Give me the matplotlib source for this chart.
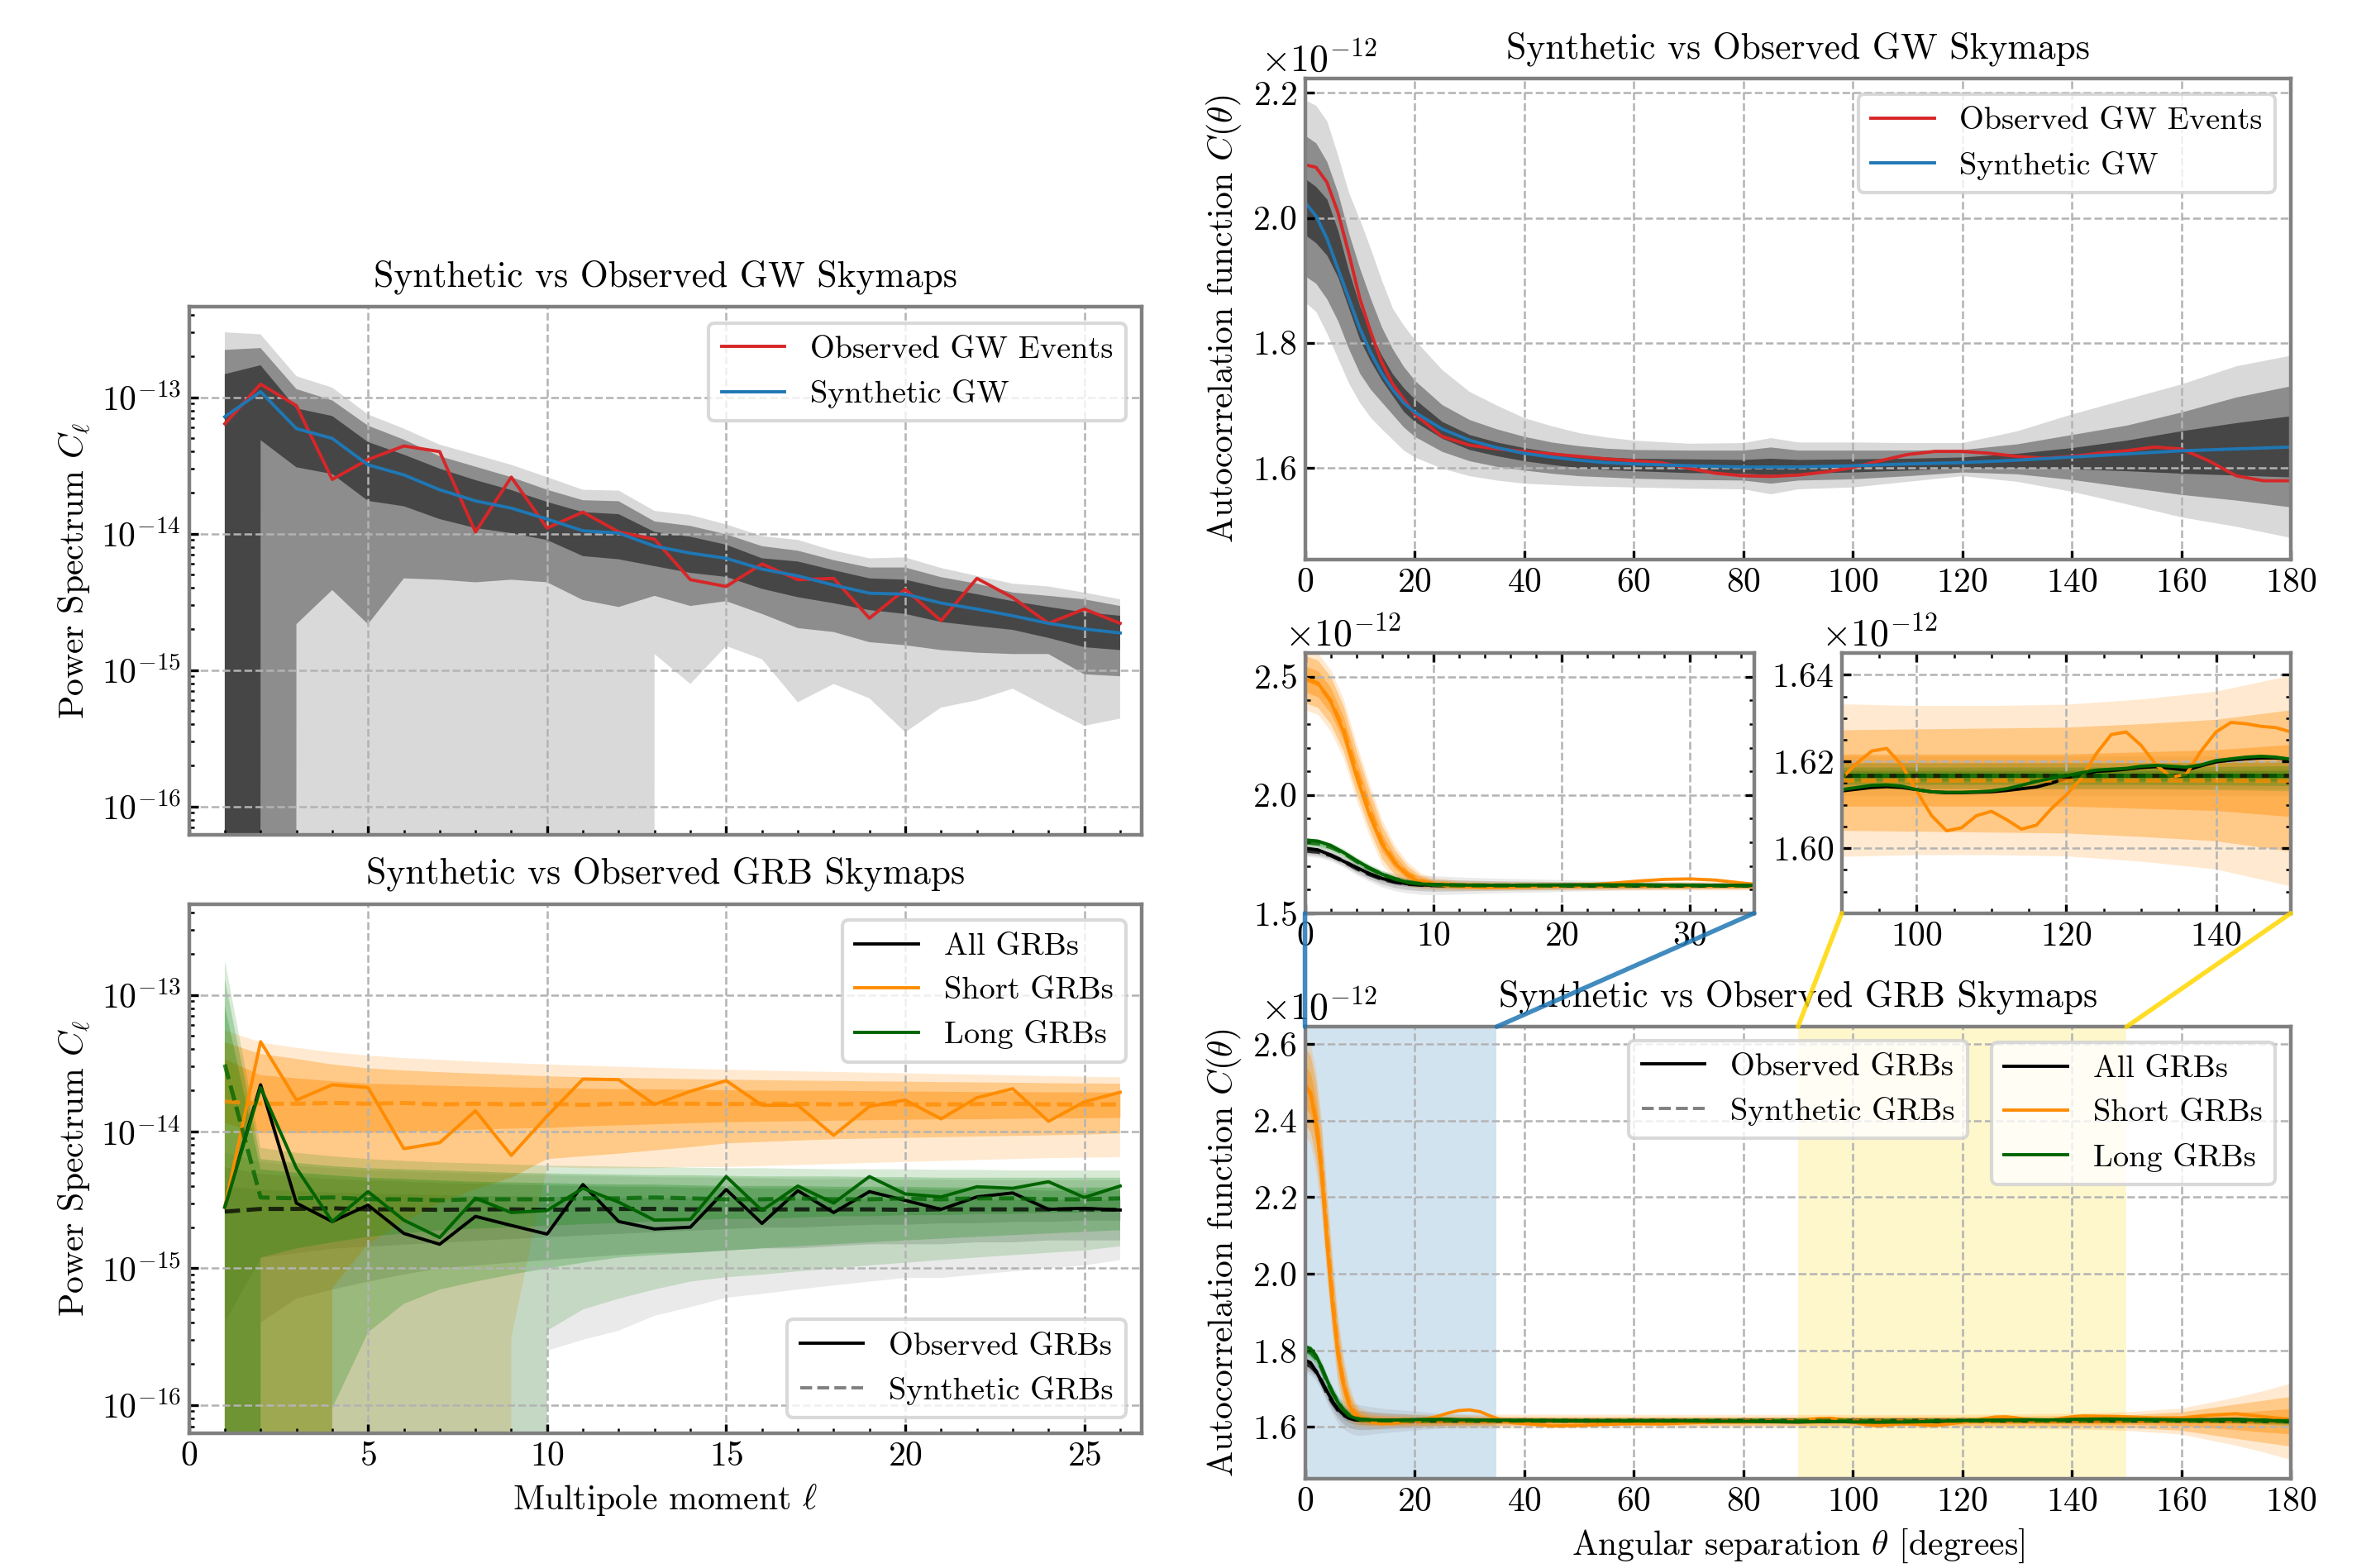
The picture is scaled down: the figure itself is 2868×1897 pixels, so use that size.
import numpy as np
import matplotlib
matplotlib.use("Agg")
import matplotlib.pyplot as plt
from matplotlib.ticker import MultipleLocator, ScalarFormatter
from matplotlib.lines import Line2D
from matplotlib.patches import ConnectionPatch

plt.rcParams.update({
    "font.family": "serif", "font.serif": ["cmr10", "DejaVu Serif"],
    "mathtext.fontset": "cm", "axes.formatter.use_mathtext": True,
    "font.size": 15, "axes.unicode_minus": True,
    "axes.titlesize": 15.7, "legend.fontsize": 13.8,
})

# ---------------- power spectra (multipole 1..26) ----------------
ell = list(range(1, 27))

gw_obs = [6.4e-14, 1.25e-13, 8.7e-14, 2.5e-14, 3.5e-14, 4.4e-14, 4.0e-14, 1.03e-14, 2.6e-14, 1.1e-14,
          1.44e-14, 1.03e-14, 9.1e-15, 4.6e-15, 4.1e-15, 6.0e-15, 4.6e-15, 4.7e-15, 2.4e-15, 3.9e-15,
          2.3e-15, 4.7e-15, 3.4e-15, 2.2e-15, 2.8e-15, 2.2e-15]
gw_syn = [7.2e-14, 1.1e-13, 5.9e-14, 5.0e-14, 3.2e-14, 2.7e-14, 2.1e-14, 1.74e-14, 1.54e-14, 1.28e-14,
          1.05e-14, 1.01e-14, 8.1e-15, 7.2e-15, 6.6e-15, 5.5e-15, 4.9e-15, 4.2e-15, 3.66e-15, 3.6e-15,
          3.1e-15, 2.8e-15, 2.5e-15, 2.2e-15, 2.0e-15, 1.87e-15]
gw_hi3 = [3.0e-13, 2.9e-13, 1.43e-13, 1.18e-13, 7.5e-14, 5.9e-14, 4.5e-14, 3.8e-14, 3.2e-14, 2.6e-14,
          2.1e-14, 2.07e-14, 1.47e-14, 1.37e-14, 1.17e-14, 9.6e-15, 9.0e-15, 7.5e-15, 6.6e-15, 6.7e-15,
          5.6e-15, 4.9e-15, 4.3e-15, 4.1e-15, 3.7e-15, 3.3e-15]
gw_hi2 = [2.23e-13, 2.3e-13, 1.15e-13, 9.5e-14, 6.2e-14, 4.9e-14, 3.7e-14, 3.1e-14, 2.6e-14, 2.1e-14,
          1.76e-14, 1.73e-14, 1.23e-14, 1.14e-14, 9.9e-15, 8.1e-15, 7.5e-15, 6.4e-15, 5.65e-15, 5.65e-15,
          4.8e-15, 4.3e-15, 3.7e-15, 3.5e-15, 3.3e-15, 2.95e-15]
gw_hi1 = [1.48e-13, 1.72e-13, 8.3e-14, 7.3e-14, 4.7e-14, 3.8e-14, 3.0e-14, 2.47e-14, 2.09e-14, 1.71e-14,
          1.44e-14, 1.39e-14, 1.03e-14, 9.5e-15, 8.3e-15, 6.6e-15, 6.25e-15, 5.4e-15, 4.7e-15, 4.6e-15,
          4.0e-15, 3.6e-15, 3.2e-15, 2.9e-15, 2.65e-15, 2.5e-15]
gw_lo1 = [0, 4.86e-14, 3.07e-14, 2.74e-14, 1.74e-14, 1.59e-14, 1.28e-14, 1.1e-14, 1.01e-14, 8.98e-15,
          6.85e-15, 6.49e-15, 5.78e-15, 5.16e-15, 4.82e-15, 3.94e-15, 3.42e-15, 3.09e-15, 2.75e-15, 2.58e-15,
          2.25e-15, 2.1e-15, 1.97e-15, 1.72e-15, 1.47e-15, 1.4e-15]
gw_lo2 = [0, 0, 2.17e-15, 3.86e-15, 2.17e-15, 4.7e-15, 4.6e-15, 4.4e-15, 4.6e-15, 4.4e-15,
          3.26e-15, 2.9e-15, 3.5e-15, 2.95e-15, 3.2e-15, 2.58e-15, 2.03e-15, 1.9e-15, 1.6e-15, 1.52e-15,
          1.4e-15, 1.34e-15, 1.31e-15, 1.31e-15, 9.3e-16, 9.0e-16]
gw_lo3 = [0, 0, 0, 0, 0, 0, 0, 0, 0, 0, 0, 0, 1.31e-15, 7.9e-16, 1.5e-15, 1.2e-15, 5.8e-16, 7.9e-16,
          6.2e-16, 3.5e-16, 5.3e-16, 6.0e-16, 7.3e-16, 5.3e-16, 3.9e-16, 4.4e-16]

all_obs = [2.8e-15, 2.2e-14, 3.0e-15, 2.2e-15, 2.9e-15, 1.8e-15, 1.5e-15, 2.4e-15, 2.06e-15, 1.78e-15,
           4.1e-15, 2.2e-15, 1.94e-15, 2.0e-15, 3.77e-15, 2.13e-15, 3.7e-15, 2.56e-15, 3.64e-15, 3.14e-15,
           2.7e-15, 3.33e-15, 3.56e-15, 2.7e-15, 2.75e-15, 2.67e-15]
short_obs = [2.8e-15, 4.55e-14, 1.7e-14, 2.2e-14, 2.1e-14, 7.5e-15, 8.3e-15, 1.42e-14, 6.7e-15, 1.3e-14,
             2.42e-14, 2.4e-14, 1.58e-14, 1.97e-14, 2.36e-14, 1.56e-14, 1.56e-14, 9.4e-15, 1.53e-14, 1.7e-14,
             1.24e-14, 1.77e-14, 2.06e-14, 1.19e-14, 1.65e-14, 1.94e-14]
long_obs = [2.8e-15, 2.1e-14, 5.4e-15, 2.2e-15, 3.64e-15, 2.25e-15, 1.68e-15, 3.26e-15, 2.56e-15, 2.65e-15,
            3.85e-15, 3.05e-15, 2.25e-15, 2.28e-15, 4.69e-15, 2.65e-15, 4.0e-15, 3.0e-15, 4.69e-15, 3.5e-15,
            3.33e-15, 3.95e-15, 3.85e-15, 4.3e-15, 3.3e-15, 4.0e-15]
all_syn = [2.6e-15, 2.72e-15, 2.72e-15, 2.75e-15, 2.7e-15, 2.7e-15, 2.68e-15, 2.7e-15, 2.7e-15, 2.68e-15,
           2.7e-15, 2.72e-15, 2.72e-15, 2.7e-15, 2.7e-15, 2.7e-15, 2.7e-15, 2.7e-15, 2.7e-15, 2.68e-15,
           2.7e-15, 2.7e-15, 2.7e-15, 2.7e-15, 2.7e-15, 2.68e-15]
short_syn = [1.66e-14, 1.6e-14, 1.6e-14, 1.62e-14, 1.6e-14, 1.62e-14, 1.58e-14, 1.6e-14, 1.58e-14, 1.6e-14,
             1.57e-14, 1.6e-14, 1.6e-14, 1.6e-14, 1.59e-14, 1.6e-14, 1.6e-14, 1.58e-14, 1.6e-14, 1.58e-14,
             1.58e-14, 1.59e-14, 1.6e-14, 1.58e-14, 1.58e-14, 1.58e-14]
long_syn = [3.1e-14, 3.3e-15, 3.25e-15, 3.3e-15, 3.2e-15, 3.2e-15, 3.15e-15, 3.2e-15, 3.2e-15, 3.2e-15,
            3.25e-15, 3.25e-15, 3.3e-15, 3.25e-15, 3.2e-15, 3.2e-15, 3.25e-15, 3.2e-15, 3.2e-15, 3.25e-15,
            3.2e-15, 3.25e-15, 3.25e-15, 3.2e-15, 3.2e-15, 3.25e-15]

# bands (lower 3s, 2s, 1s ; upper 1s, 2s, 3s)
all_lo3 = [0, 0, 0, 0, 0, 0, 0, 0, 0, 2.5e-16, 3.0e-16, 3.5e-16, 4.5e-16, 5.2e-16, 6.1e-16, 6.5e-16,
           7.0e-16, 7.5e-16, 8.0e-16, 8.5e-16, 8.5e-16, 9.0e-16, 9.5e-16, 1.0e-15, 1.05e-15, 1.15e-15]
all_lo2 = [0, 4e-16, 6e-16, 7e-16, 8e-16, 9e-16, 1.0e-15, 1.05e-15, 1.1e-15, 1.15e-15, 1.2e-15, 1.25e-15,
           1.3e-15, 1.3e-15, 1.35e-15, 1.4e-15, 1.4e-15, 1.45e-15, 1.5e-15, 1.5e-15, 1.5e-15, 1.55e-15,
           1.55e-15, 1.6e-15, 1.6e-15, 1.6e-15]
all_lo1 = [4.1e-16, 1.2e-15, 1.3e-15, 1.4e-15, 1.45e-15, 1.5e-15, 1.55e-15, 1.6e-15, 1.65e-15, 1.7e-15,
           1.75e-15, 1.8e-15, 1.85e-15, 1.9e-15, 1.95e-15, 2.0e-15, 2.0e-15, 2.05e-15, 2.1e-15, 2.1e-15,
           2.15e-15, 2.15e-15, 2.2e-15, 2.2e-15, 2.25e-15, 2.25e-15]
all_hi1 = [4.0e-15, 3.8e-15, 3.7e-15, 3.6e-15, 3.55e-15, 3.5e-15, 3.45e-15, 3.4e-15, 3.4e-15, 3.35e-15,
           3.35e-15, 3.3e-15, 3.3e-15, 3.3e-15, 3.3e-15, 3.25e-15, 3.25e-15, 3.25e-15, 3.25e-15, 3.2e-15,
           3.2e-15, 3.2e-15, 3.2e-15, 3.2e-15, 3.2e-15, 3.2e-15]
all_hi2 = [5.5e-15, 4.9e-15, 4.7e-15, 4.5e-15, 4.4e-15, 4.3e-15, 4.2e-15, 4.15e-15, 4.1e-15, 4.05e-15,
           4.0e-15, 3.95e-15, 3.95e-15, 3.9e-15, 3.9e-15, 3.85e-15, 3.85e-15, 3.8e-15, 3.8e-15, 3.8e-15,
           3.75e-15, 3.75e-15, 3.75e-15, 3.7e-15, 3.7e-15, 3.7e-15]
all_hi3 = [7.0e-15, 6.0e-15, 5.6e-15, 5.4e-15, 5.2e-15, 5.1e-15, 5.0e-15, 4.9e-15, 4.85e-15, 4.8e-15,
           4.75e-15, 4.7e-15, 4.65e-15, 4.6e-15, 4.6e-15, 4.55e-15, 4.5e-15, 4.5e-15, 4.5e-15, 4.45e-15,
           4.45e-15, 4.4e-15, 4.4e-15, 4.4e-15, 4.4e-15, 4.4e-15]

short_lo3 = [0, 0, 0, 0, 0, 0, 0, 0, 3.1e-16, 5.5e-15, 5.4e-15, 5.4e-15, 5.4e-15, 5.5e-15, 5.5e-15,
             5.6e-15, 5.7e-15, 5.8e-15, 5.9e-15, 6.0e-15, 6.1e-15, 6.2e-15, 6.3e-15, 6.4e-15, 6.45e-15, 6.5e-15]
short_lo2 = [0, 0, 0, 7.2e-16, 1.5e-15, 2.2e-15, 3.0e-15, 3.8e-15, 4.6e-15, 6.3e-15, 6.6e-15, 6.9e-15,
             7.3e-15, 7.7e-15, 8.2e-15, 8.4e-15, 8.6e-15, 8.8e-15, 8.9e-15, 9.0e-15, 9.1e-15, 9.2e-15,
             9.3e-15, 9.4e-15, 9.5e-15, 9.7e-15]
short_lo1 = [1.16e-14, 9.8e-15, 9.8e-15, 9.9e-15, 9.9e-15, 1.0e-14, 1.02e-14, 1.04e-14, 1.06e-14, 1.07e-14,
             1.1e-14, 1.12e-14, 1.14e-14, 1.16e-14, 1.18e-14, 1.19e-14, 1.2e-14, 1.21e-14, 1.22e-14, 1.23e-14,
             1.24e-14, 1.24e-14, 1.25e-14, 1.26e-14, 1.26e-14, 1.27e-14]
short_hi1 = [3.4e-14, 2.6e-14, 2.47e-14, 2.35e-14, 2.26e-14, 2.22e-14, 2.18e-14, 2.15e-14, 2.12e-14, 2.1e-14,
             2.08e-14, 2.06e-14, 2.05e-14, 2.04e-14, 2.02e-14, 2.01e-14, 2.0e-14, 2.0e-14, 1.99e-14, 1.98e-14,
             1.97e-14, 1.96e-14, 1.96e-14, 1.95e-14, 1.95e-14, 1.94e-14]
short_hi2 = [4.5e-14, 3.7e-14, 3.4e-14, 3.1e-14, 2.9e-14, 2.8e-14, 2.72e-14, 2.66e-14, 2.6e-14, 2.54e-14,
             2.5e-14, 2.47e-14, 2.45e-14, 2.42e-14, 2.4e-14, 2.38e-14, 2.36e-14, 2.35e-14, 2.33e-14, 2.32e-14,
             2.3e-14, 2.29e-14, 2.28e-14, 2.26e-14, 2.25e-14, 2.24e-14]
short_hi3 = [5.5e-14, 4.5e-14, 4.1e-14, 3.8e-14, 3.6e-14, 3.45e-14, 3.35e-14, 3.25e-14, 3.17e-14, 3.1e-14,
             3.04e-14, 2.98e-14, 2.93e-14, 2.88e-14, 2.84e-14, 2.8e-14, 2.76e-14, 2.73e-14, 2.7e-14, 2.67e-14,
             2.64e-14, 2.61e-14, 2.58e-14, 2.55e-14, 2.52e-14, 2.5e-14]

long_lo3 = [0, 0, 0, 0, 0, 0, 0, 0, 0, 3.5e-16, 5e-16, 6e-16, 7e-16, 8e-16, 8.6e-16, 9e-16, 9.5e-16,
            1.0e-15, 1.05e-15, 1.1e-15, 1.15e-15, 1.2e-15, 1.25e-15, 1.3e-15, 1.35e-15, 1.45e-15]
long_lo2 = [0, 0, 0, 9.5e-17, 3.4e-16, 5.5e-16, 7e-16, 8e-16, 9e-16, 1.0e-15, 1.1e-15, 1.2e-15, 1.25e-15,
            1.3e-15, 1.35e-15, 1.4e-15, 1.45e-15, 1.5e-15, 1.55e-15, 1.6e-15, 1.65e-15, 1.7e-15, 1.75e-15,
            1.8e-15, 1.85e-15, 1.9e-15]
long_lo1 = [0, 1.2e-15, 1.4e-15, 1.55e-15, 1.7e-15, 1.8e-15, 1.9e-15, 1.95e-15, 2.0e-15, 2.05e-15, 2.1e-15,
            2.15e-15, 2.2e-15, 2.25e-15, 2.3e-15, 2.3e-15, 2.35e-15, 2.4e-15, 2.4e-15, 2.45e-15, 2.45e-15,
            2.5e-15, 2.5e-15, 2.55e-15, 2.55e-15, 2.6e-15]
long_hi1 = [8.3e-14, 5.3e-15, 5.0e-15, 4.8e-15, 4.6e-15, 4.5e-15, 4.4e-15, 4.3e-15, 4.25e-15, 4.2e-15,
            4.15e-15, 4.1e-15, 4.1e-15, 4.05e-15, 4.0e-15, 4.0e-15, 4.0e-15, 3.95e-15, 3.95e-15, 3.95e-15,
            3.9e-15, 3.9e-15, 3.9e-15, 3.9e-15, 3.9e-15, 3.9e-15]
long_hi2 = [1.3e-13, 6.3e-15, 5.9e-15, 5.6e-15, 5.4e-15, 5.3e-15, 5.2e-15, 5.1e-15, 5.0e-15, 4.95e-15,
            4.9e-15, 4.85e-15, 4.8e-15, 4.8e-15, 4.75e-15, 4.7e-15, 4.7e-15, 4.7e-15, 4.65e-15, 4.65e-15,
            4.6e-15, 4.6e-15, 4.6e-15, 4.6e-15, 4.6e-15, 4.6e-15]
long_hi3 = [1.8e-13, 7.6e-15, 7.0e-15, 6.6e-15, 6.3e-15, 6.1e-15, 5.95e-15, 5.85e-15, 5.75e-15, 5.65e-15,
            5.6e-15, 5.55e-15, 5.5e-15, 5.45e-15, 5.4e-15, 5.4e-15, 5.35e-15, 5.3e-15, 5.3e-15, 5.3e-15,
            5.25e-15, 5.25e-15, 5.2e-15, 5.2e-15, 5.2e-15, 5.2e-15]

# ---------------- GW autocorrelation (units of 1e-12) ----------------
SCALE = 1e-12
th_gw_obs = [0, 2, 4, 6, 8, 10, 12, 14, 16, 18, 20, 25, 30, 35, 40, 45, 50, 55, 60, 65, 70, 75, 80, 85, 90,
             95, 100, 105, 110, 115, 120, 125, 130, 135, 140, 145, 150, 155, 160, 165, 170, 175, 180]
gw_ac_obs = [2.085, 2.081, 2.057, 2.009, 1.943, 1.871, 1.817, 1.769, 1.734, 1.710, 1.686, 1.650, 1.636, 1.630,
             1.626, 1.622, 1.618, 1.614, 1.611, 1.608, 1.599, 1.591, 1.587, 1.586, 1.588, 1.593, 1.600, 1.611,
             1.621, 1.626, 1.626, 1.623, 1.618, 1.615, 1.618, 1.623, 1.627, 1.633, 1.630, 1.611, 1.587, 1.579,
             1.579]
th_gw = [0, 2, 4, 6, 8, 10, 12, 14, 16, 18, 20, 25, 30, 35, 40, 45, 50, 55, 60, 70, 80, 85, 90, 100, 110,
         120, 130, 140, 150, 160, 170, 180]
gw_ac_syn = [2.025, 2.003, 1.967, 1.919, 1.871, 1.823, 1.784, 1.751, 1.725, 1.704, 1.689, 1.662, 1.644, 1.632,
             1.623, 1.617, 1.612, 1.608, 1.606, 1.603, 1.601, 1.601, 1.601, 1.603, 1.606, 1.608, 1.612, 1.617,
             1.622, 1.627, 1.630, 1.633]
gw_ac_hi3 = [2.189, 2.18, 2.155, 2.10, 2.04, 1.997, 1.95, 1.90, 1.855, 1.828, 1.805, 1.757, 1.722, 1.70, 1.680,
             1.667, 1.656, 1.649, 1.644, 1.639, 1.640, 1.648, 1.641, 1.641, 1.640, 1.640, 1.659, 1.686, 1.710,
             1.734, 1.763, 1.780]
gw_ac_hi2 = [2.132, 2.12, 2.09, 2.04, 1.975, 1.919, 1.87, 1.825, 1.79, 1.762, 1.740, 1.701, 1.677, 1.662, 1.650,
             1.641, 1.635, 1.631, 1.629, 1.628, 1.628, 1.633, 1.628, 1.628, 1.628, 1.629, 1.638, 1.653, 1.668,
             1.689, 1.713, 1.731]
gw_ac_hi1 = [2.063, 2.05, 2.03, 1.98, 1.915, 1.859, 1.815, 1.78, 1.75, 1.728, 1.710, 1.674, 1.653, 1.641, 1.632,
             1.625, 1.620, 1.617, 1.615, 1.614, 1.613, 1.615, 1.613, 1.614, 1.615, 1.617, 1.623, 1.632, 1.644,
             1.659, 1.672, 1.683]
gw_ac_lo1 = [1.973, 1.96, 1.94, 1.905, 1.855, 1.805, 1.77, 1.74, 1.715, 1.69, 1.674, 1.647, 1.629, 1.619, 1.611,
             1.605, 1.600, 1.597, 1.595, 1.592, 1.591, 1.589, 1.591, 1.593, 1.596, 1.600, 1.600, 1.598, 1.595,
             1.591, 1.588, 1.585]
gw_ac_lo2 = [1.907, 1.895, 1.87, 1.835, 1.79, 1.751, 1.725, 1.705, 1.685, 1.665, 1.650, 1.626, 1.611, 1.602,
             1.596, 1.591, 1.587, 1.585, 1.583, 1.581, 1.580, 1.575, 1.580, 1.582, 1.587, 1.593, 1.590, 1.581,
             1.569, 1.557, 1.548, 1.537]
gw_ac_lo3 = [1.865, 1.85, 1.815, 1.775, 1.735, 1.704, 1.68, 1.662, 1.645, 1.628, 1.617, 1.599, 1.587, 1.580,
             1.575, 1.573, 1.571, 1.570, 1.569, 1.567, 1.566, 1.558, 1.566, 1.569, 1.578, 1.587, 1.578, 1.562,
             1.542, 1.521, 1.506, 1.488]

# ---------------- GRB autocorrelation (units of 1e-12) ----------------
th_obs = [0, 1, 2, 3, 4, 5, 6, 7, 8, 9, 10, 12, 14, 16, 18, 20, 22, 24, 26, 28, 30, 32, 34, 36, 38, 40,
          45, 50, 55, 60, 65, 70, 75, 80, 85, 90, 92, 94, 96, 98, 100, 102, 104, 106, 108, 110, 112, 114,
          116, 118, 120, 122, 124, 126, 128, 130, 132, 134, 136, 138, 140, 142, 144, 146, 148, 150,
          155, 160, 165, 170, 175, 180]
short_ac_obs = [2.494, 2.474, 2.395, 2.268, 2.082, 1.92, 1.792, 1.711, 1.659, 1.63, 1.62,
                1.613, 1.609, 1.61, 1.613, 1.617, 1.621, 1.627, 1.636, 1.643, 1.645, 1.64, 1.628, 1.617, 1.611,
                1.609, 1.603, 1.604, 1.607, 1.609, 1.608, 1.611, 1.613, 1.613, 1.614,
                1.6161, 1.6196, 1.6224, 1.623, 1.6192, 1.6132, 1.6075, 1.604, 1.6047, 1.6075, 1.6085, 1.6066,
                1.6044, 1.6053, 1.6091, 1.6123, 1.6161, 1.6218, 1.6262, 1.6268, 1.6237, 1.6192, 1.6164, 1.617,
                1.6224, 1.6268, 1.629, 1.6287, 1.6281, 1.6278, 1.6268,
                1.624, 1.624, 1.631, 1.635, 1.627, 1.62]
all_ac_obs = [1.775, 1.768, 1.746, 1.72, 1.694, 1.668, 1.647, 1.633, 1.624, 1.62, 1.618,
              1.617, 1.617, 1.618, 1.618, 1.619, 1.619, 1.619, 1.619, 1.618, 1.618, 1.618, 1.618, 1.617, 1.617,
              1.617, 1.616, 1.616, 1.616, 1.616, 1.616, 1.616, 1.615, 1.615, 1.614,
              1.6132, 1.6136, 1.614, 1.6142, 1.614, 1.6135, 1.613, 1.6128, 1.6128, 1.6129, 1.613, 1.6133,
              1.6137, 1.6141, 1.615, 1.6161, 1.617, 1.6177, 1.6179, 1.6182, 1.6186, 1.6188, 1.6184, 1.618,
              1.619, 1.6199, 1.6203, 1.6206, 1.6208, 1.6208, 1.6205,
              1.62, 1.619, 1.619, 1.62, 1.617, 1.614]
long_ac_obs = [1.81, 1.805, 1.787, 1.757, 1.723, 1.692, 1.665, 1.645, 1.63, 1.624, 1.621,
               1.619, 1.618, 1.618, 1.619, 1.619, 1.62, 1.62, 1.62, 1.619, 1.619, 1.618, 1.618, 1.618, 1.617,
               1.617, 1.617, 1.616, 1.616, 1.616, 1.616, 1.616, 1.615, 1.615, 1.614,
               1.6135, 1.614, 1.6145, 1.6146, 1.6143, 1.6135, 1.613, 1.6129, 1.6129, 1.613, 1.6132, 1.6137,
               1.6145, 1.6154, 1.6161, 1.6167, 1.6174, 1.618, 1.6182, 1.6184, 1.6189, 1.6191, 1.6189, 1.6187,
               1.6192, 1.6202, 1.6206, 1.621, 1.6212, 1.621, 1.6205,
               1.62, 1.619, 1.619, 1.62, 1.618, 1.615]

th_syn = [0, 1, 2, 3, 4, 5, 6, 7, 8, 9, 10, 12, 15, 20, 25, 30, 35, 40, 50, 60, 70, 80, 90, 100, 110, 120,
          130, 140, 150, 160, 170, 175, 180]
short_ac_syn = [2.49, 2.47, 2.40, 2.28, 2.10, 1.94, 1.80, 1.715, 1.665, 1.638, 1.625, 1.618, 1.616, 1.6158,
                1.6157, 1.6156, 1.6156, 1.6156, 1.6156, 1.6156, 1.6156, 1.6156, 1.6156, 1.6156, 1.6156, 1.6156,
                1.6156, 1.6156, 1.6155, 1.6154, 1.6152, 1.615, 1.615]
all_ac_syn = [1.765, 1.76, 1.745, 1.72, 1.69, 1.665, 1.645, 1.632, 1.624, 1.62, 1.618, 1.617, 1.6167, 1.6167,
              1.6167, 1.6167, 1.6167, 1.6167, 1.6167, 1.6167, 1.6167, 1.6167, 1.6167, 1.6167, 1.6167, 1.6167,
              1.6167, 1.6167, 1.6167, 1.6166, 1.6165, 1.616, 1.6158]
long_ac_syn = [1.80, 1.795, 1.78, 1.755, 1.72, 1.69, 1.665, 1.645, 1.632, 1.624, 1.62, 1.6175, 1.617, 1.6167,
               1.6167, 1.6167, 1.6167, 1.6167, 1.6167, 1.6167, 1.6167, 1.6167, 1.6167, 1.6167, 1.6167, 1.6167,
               1.6167, 1.6167, 1.6167, 1.6166, 1.6165, 1.616, 1.6158]
# half-widths of the 1/2/3 sigma envelopes
short_w1 = [0.055, 0.055, 0.055, 0.052, 0.05, 0.045, 0.038, 0.028, 0.018, 0.012, 0.009, 0.007, 0.0065, 0.006,
            0.006, 0.006, 0.006, 0.006, 0.006, 0.006, 0.006, 0.006, 0.006, 0.006, 0.006, 0.006, 0.0065, 0.007,
            0.0083, 0.012, 0.022, 0.028, 0.033]
short_w2 = [0.10, 0.10, 0.10, 0.095, 0.09, 0.082, 0.07, 0.052, 0.034, 0.022, 0.017, 0.014, 0.013, 0.012, 0.012,
            0.012, 0.012, 0.012, 0.0118, 0.0117, 0.0116, 0.0116, 0.0116, 0.0118, 0.012, 0.0122, 0.013, 0.014,
            0.0163, 0.024, 0.045, 0.055, 0.065]
short_w3 = [0.13, 0.13, 0.13, 0.125, 0.12, 0.11, 0.095, 0.072, 0.05, 0.033, 0.026, 0.021, 0.019, 0.018, 0.018,
            0.018, 0.018, 0.018, 0.0178, 0.0177, 0.0176, 0.0176, 0.0176, 0.0172, 0.0172, 0.0175, 0.0187, 0.0205,
            0.0243, 0.034, 0.063, 0.08, 0.1]
all_w1 = [0.008, 0.008, 0.008, 0.008, 0.009, 0.01, 0.011, 0.012, 0.012, 0.012, 0.012, 0.011, 0.01, 0.008,
          0.006, 0.005, 0.004, 0.003, 0.002, 0.0015, 0.0015, 0.0015, 0.0015, 0.0015, 0.0015, 0.0015, 0.0015,
          0.0015, 0.0015, 0.0017, 0.002, 0.0025, 0.003]
all_w2 = [0.016, 0.016, 0.016, 0.017, 0.018, 0.02, 0.022, 0.024, 0.025, 0.025, 0.025, 0.023, 0.02, 0.016,
          0.012, 0.01, 0.008, 0.006, 0.004, 0.003, 0.003, 0.003, 0.003, 0.003, 0.003, 0.003, 0.003, 0.003,
          0.003, 0.0035, 0.004, 0.005, 0.006]
all_w3 = [0.024, 0.024, 0.024, 0.025, 0.027, 0.03, 0.034, 0.037, 0.038, 0.04, 0.04, 0.036, 0.031, 0.025,
          0.019, 0.015, 0.012, 0.009, 0.006, 0.0045, 0.0045, 0.0045, 0.0045, 0.0045, 0.0045, 0.0045, 0.0045,
          0.0045, 0.0045, 0.005, 0.006, 0.0075, 0.009]
long_w1 = [0.006, 0.006, 0.006, 0.006, 0.006, 0.006, 0.006, 0.005, 0.004, 0.003, 0.0025, 0.002, 0.0018,
           0.0015, 0.0013, 0.0012, 0.0012, 0.0011, 0.0011, 0.0011, 0.0011, 0.0011, 0.0011, 0.0011, 0.0011,
           0.0011, 0.0011, 0.0011, 0.0012, 0.0015, 0.0022, 0.003, 0.004]
long_w2 = [0.012, 0.012, 0.012, 0.012, 0.012, 0.012, 0.012, 0.01, 0.008, 0.006, 0.005, 0.004, 0.0035, 0.003,
           0.0026, 0.0024, 0.0023, 0.0022, 0.0021, 0.0021, 0.002, 0.002, 0.002, 0.002, 0.002, 0.002, 0.002,
           0.0021, 0.0023, 0.003, 0.0045, 0.006, 0.008]
long_w3 = [0.018, 0.018, 0.018, 0.018, 0.018, 0.018, 0.018, 0.015, 0.012, 0.009, 0.0075, 0.006, 0.0053,
           0.0045, 0.004, 0.0036, 0.0034, 0.0033, 0.0032, 0.0031, 0.003, 0.003, 0.003, 0.003, 0.003, 0.003,
           0.003, 0.0032, 0.0035, 0.0045, 0.0068, 0.009, 0.012]

RED, BLUE = "#d62728", "#1f77b4"
C_ALL, C_SHORT, C_LONG = "black", "darkorange", "darkgreen"
# band colour and alpha per class: (3 sigma, 2 sigma, 1 sigma)
BANDS = {"all": ("gray", (0.16, 0.3, 0.35)),
         "short": ("darkorange", (0.18, 0.35, 0.4)),
         "long": ("green", (0.16, 0.22, 0.25))}


def style(ax, all_sides=False):
    ax.tick_params(which="both", direction="in", top=all_sides, right=all_sides)
    ax.tick_params(which="major", length=4, width=1.2)
    ax.tick_params(which="minor", length=2.2, width=0.9)
    for s in ax.spines.values():
        s.set_color("#808080"); s.set_linewidth(1.6)
    ax.grid(True, which="major", ls="--", color="#b3b3b3", lw=0.9)


def leg(ax, **kw):
    l = ax.legend(fancybox=True, framealpha=0.8, edgecolor="#d0d0d0", **kw)
    l.get_frame().set_linewidth(1.5)
    return l


def sci(ax, size=16.5):
    f = ScalarFormatter(useMathText=True); f.set_powerlimits((0, 0)); f.set_useOffset(False)
    ax.yaxis.set_major_formatter(f)
    ot = ax.yaxis.get_offset_text()
    ot.set_x(-0.045); ot.set_fontsize(size)


fig = plt.figure(figsize=(14.34, 9.485), dpi=200)
ax_tl = fig.add_axes([0.0797, 0.4677, 0.4018, 0.3365])
ax_bl = fig.add_axes([0.0797, 0.0858, 0.4018, 0.3375], sharex=ax_tl)
ax_tr = fig.add_axes([0.5504, 0.6432, 0.4158, 0.3067])
ax_il = fig.add_axes([0.5504, 0.4176, 0.1894, 0.1659])
ax_ir = fig.add_axes([0.7768, 0.4176, 0.1894, 0.1659])
ax_br = fig.add_axes([0.5504, 0.0569, 0.4158, 0.2883])

# ---- top left: GW power spectrum ----
ax = ax_tl
ax.set_yscale("log")
for lo, hi, a in [(gw_lo3, gw_hi3, 0.15), (gw_lo2, gw_hi2, 0.35), (gw_lo1, gw_hi1, 0.5)]:
    ax.fill_between(ell, lo, hi, color="k", alpha=a, lw=0)
ax.plot(ell, gw_obs, color=RED, lw=1.4, label="Observed GW Events")
ax.plot(ell, gw_syn, color=BLUE, lw=1.4, label="Synthetic GW")
ax.set_ylim(6.2e-17, 4.6e-13)
ax.set_ylabel(r"Power Spectrum $C_\ell$")
ax.set_title("Synthetic vs Observed GW Skymaps", pad=9)
leg(ax, loc="upper right")
ax.tick_params(labelbottom=False)

# ---- bottom left: GRB power spectrum ----
ax = ax_bl
ax.set_yscale("log")
classes_cl = [
    ("all", C_ALL, all_obs, all_syn, [all_lo3, all_lo2, all_lo1], [all_hi3, all_hi2, all_hi1]),
    ("short", C_SHORT, short_obs, short_syn, [short_lo3, short_lo2, short_lo1],
     [short_hi3, short_hi2, short_hi1]),
    ("long", C_LONG, long_obs, long_syn, [long_lo3, long_lo2, long_lo1],
     [long_hi3, long_hi2, long_hi1]),
]
for key, lc, obs, syn, los, his in classes_cl:
    bc, alphas = BANDS[key]
    for lo, hi, a in zip(los, his, alphas):
        ax.fill_between(ell, lo, hi, color=bc, alpha=a, lw=0)
for key, lc, obs, syn, los, his in classes_cl:
    ax.plot(ell, syn, color=lc, ls="--", lw=1.8, alpha=0.75)
    ax.plot(ell, obs, color=lc, lw=1.4)
ax.set_ylim(6.2e-17, 4.6e-13)
ax.set_xlim(0, 26.6)
ax.xaxis.set_major_locator(MultipleLocator(5))
ax.xaxis.set_minor_locator(MultipleLocator(1))
ax.set_xlabel(r"Multipole moment $\ell$")
ax.set_ylabel(r"Power Spectrum $C_\ell$")
ax.set_title("Synthetic vs Observed GRB Skymaps", pad=9)
cls_handles = [Line2D([], [], color=c, lw=1.4) for c in (C_ALL, C_SHORT, C_LONG)]
cls_labels = ["All GRBs", "Short GRBs", "Long GRBs"]
os_handles = [Line2D([], [], color="k", lw=1.4), Line2D([], [], color="gray", ls="--", lw=1.4)]
os_labels = ["Observed GRBs", "Synthetic GRBs"]
l1 = leg(ax, handles=cls_handles, labels=cls_labels, loc="upper right")
ax.add_artist(l1)
leg(ax, handles=os_handles, labels=os_labels, loc="lower right")

for a in (ax_tl, ax_bl):
    style(a)

# ---- top right: GW autocorrelation ----
ax = ax_tr
s = lambda v: np.asarray(v) * SCALE
for lo, hi, a in [(gw_ac_lo3, gw_ac_hi3, 0.15), (gw_ac_lo2, gw_ac_hi2, 0.35), (gw_ac_lo1, gw_ac_hi1, 0.5)]:
    ax.fill_between(th_gw, s(lo), s(hi), color="k", alpha=a, lw=0)
ax.plot(th_gw_obs, s(gw_ac_obs), color=RED, lw=1.4, label="Observed GW Events")
ax.plot(th_gw, s(gw_ac_syn), color=BLUE, lw=1.4, label="Synthetic GW")
ax.set_xlim(0, 180)
ax.set_ylim(1.453e-12, 2.223e-12)
ax.xaxis.set_major_locator(MultipleLocator(20))
ax.yaxis.set_major_locator(MultipleLocator(0.2e-12))
sci(ax)
ax.set_ylabel(r"Autocorrelation function $C(\theta)$")
ax.set_title("Synthetic vs Observed GW Skymaps", pad=9)
leg(ax, loc="upper right")
style(ax)


# ---- GRB autocorrelation: bottom right + two zooms ----
def draw_grb_ac(ax):
    groups = [
        ("all", C_ALL, all_ac_obs, all_ac_syn, (all_w3, all_w2, all_w1)),
        ("short", C_SHORT, short_ac_obs, short_ac_syn, (short_w3, short_w2, short_w1)),
        ("long", C_LONG, long_ac_obs, long_ac_syn, (long_w3, long_w2, long_w1)),
    ]
    for key, lc, obs, syn, ws in groups:
        bc, alphas = BANDS[key]
        m = np.asarray(syn)
        for w, a in zip(ws, alphas):
            w = np.asarray(w)
            ax.fill_between(th_syn, s(m - w), s(m + w), color=bc, alpha=a, lw=0)
    for key, lc, obs, syn, ws in groups:
        ax.plot(th_syn, s(syn), color=lc, ls="--", lw=1.8, alpha=0.75)
        ax.plot(th_obs, s(obs), color=lc, lw=1.4)


ax = ax_br
ax.axvspan(0, 35, color="tab:blue", alpha=0.2, lw=0)
ax.axvspan(90, 150, color="gold", alpha=0.2, lw=0)
draw_grb_ac(ax)
ax.set_xlim(0, 180)
ax.set_ylim(1.465e-12, 2.645e-12)
ax.xaxis.set_major_locator(MultipleLocator(20))
ax.yaxis.set_major_locator(MultipleLocator(0.2e-12))
sci(ax)
ax.set_xlabel(r"Angular separation $\theta$ [degrees]")
ax.set_ylabel(r"Autocorrelation function $C(\theta)$")
ax.set_title("Synthetic vs Observed GRB Skymaps", pad=9)
lb1 = leg(ax, handles=os_handles, labels=os_labels, loc="upper right", bbox_to_anchor=(0.672, 0.97),
          borderaxespad=0)
ax.add_artist(lb1)
leg(ax, handles=cls_handles, labels=cls_labels, loc="upper right")
style(ax)

ax = ax_il
draw_grb_ac(ax)
ax.set_xlim(0, 35)
ax.set_ylim(1.5e-12, 2.6e-12)
ax.xaxis.set_major_locator(MultipleLocator(10))
ax.xaxis.set_minor_locator(MultipleLocator(2))
ax.yaxis.set_major_locator(MultipleLocator(0.5e-12))
ax.yaxis.set_minor_locator(MultipleLocator(0.1e-12))
sci(ax)
style(ax, all_sides=True)

ax = ax_ir
draw_grb_ac(ax)
ax.set_xlim(90, 150)
ax.set_ylim(1.585e-12, 1.645e-12)
ax.xaxis.set_major_locator(MultipleLocator(20))
ax.xaxis.set_minor_locator(MultipleLocator(5))
ax.yaxis.set_major_locator(MultipleLocator(0.02e-12))
ax.yaxis.set_minor_locator(MultipleLocator(0.005e-12))
sci(ax)
style(ax, all_sides=True)

# connector lines from the zoom panels to the shaded ranges
for src, xa, xb, col in [(ax_il, 0, 0, "tab:blue"), (ax_il, 1, 35, "tab:blue"),
                         (ax_ir, 0, 90, "gold"), (ax_ir, 1, 150, "gold")]:
    con = ConnectionPatch(xyA=(xa, 0), coordsA=src.transAxes, xyB=(xb, 1),
                          coordsB=ax_br.get_xaxis_transform(), color=col, lw=2, alpha=0.85)
    fig.add_artist(con)

fig.savefig("out.png", dpi=200)
